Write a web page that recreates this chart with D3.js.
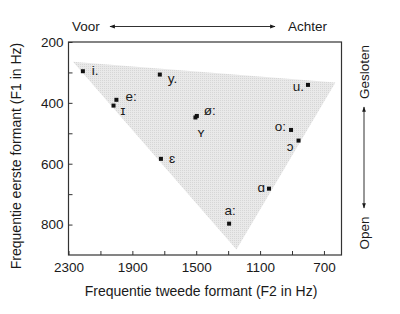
<!DOCTYPE html>
<html><head><meta charset="utf-8">
<script src="https://cdn.jsdelivr.net/npm/d3@7"></script>
<style>
html,body{margin:0;padding:0;background:#fff;}
svg{display:block;font-family:"Liberation Sans",Arial,Helvetica,sans-serif;}
</style></head>
<body>
<script>
// Data
const vowels = ["i.", "y.", "e:", "ɪ", "ø:", "ʏ", "ɛ", "u.", "o:", "ɔ", "ɑ", "a:"];
const f2 = [2210, 1728, 2000, 2018, 1496, 1505, 1721, 800, 906, 859, 1044, 1294];
const f1 = [296, 307, 390, 409, 443, 448, 584, 341, 489, 524, 682, 797];
const triangleF2 = [2272, 628, 1248];
const triangleF1 = [265, 333, 882];
const xTicks = [2300, 2100, 1900, 1700, 1500, 1300, 1100, 900, 700];
const xTickLabels = [2300, 1900, 1500, 1100, 700];
const yTicks = [200, 300, 400, 500, 600, 700, 800];
const yTickLabels = [200, 400, 600, 800];

const W = 400, H = 314;
const svg = d3.select("body").append("svg").attr("width", W).attr("height", H);
const x = d3.scaleLinear().domain([2300, 590]).range([68.5, 341.5]);
const y = d3.scaleLinear().domain([200, 900]).range([42, 255]);
const ink = "#1a1a1a";

// shaded vowel triangle
const defs = svg.append("defs");
const pat = defs.append("pattern").attr("id", "dots")
  .attr("width", 2).attr("height", 2).attr("patternUnits", "userSpaceOnUse");
pat.append("rect").attr("width", 2).attr("height", 2).attr("fill", "#e9e9e9");
pat.append("rect").attr("width", 1).attr("height", 1).attr("fill", "#d6d6d6");
svg.append("path")
  .attr("d", d3.line()(triangleF2.map((v, i) => [x(v), y(triangleF1[i])])) + "Z")
  .attr("fill", "url(#dots)");

// axes
const xAxis = d3.axisBottom(x).tickValues(xTicks).tickSize(-4).tickPadding(7)
  .tickFormat(d => xTickLabels.includes(d) ? d : "");
const gx = svg.append("g").attr("transform", `translate(0,${y.range()[1]})`).call(xAxis);
const yAxis = d3.axisLeft(y).tickValues(yTicks).tickSize(-4).tickPadding(5)
  .tickFormat(d => yTickLabels.includes(d) ? d : "");
const gy = svg.append("g").attr("transform", `translate(${x.range()[0]},0)`).call(yAxis);
[gx, gy].forEach(g => {
  g.select(".domain").remove();
  g.selectAll("line").attr("stroke", "#333");
  g.selectAll("text").attr("font-size", 13.5).attr("fill", ink)
    .attr("font-family", "'Liberation Sans',Arial,sans-serif");
});

// frame
svg.append("rect").attr("x", x.range()[0]).attr("y", y.range()[0])
  .attr("width", x.range()[1] - x.range()[0]).attr("height", y.range()[1] - y.range()[0])
  .attr("fill", "none").attr("stroke", "#333").attr("stroke-width", 1.2);

// markers
const pts = vowels.map((v, i) => ({label: v, f2: f2[i], f1: f1[i]}));
svg.append("g").selectAll("rect").data(pts).join("rect")
  .attr("x", d => x(d.f2) - 2).attr("y", d => y(d.f1) - 2)
  .attr("width", 4).attr("height", 4).attr("fill", "#111");

// label placement (dx, dy, anchor)
const place = {
  "i.": [9, 4, "start"], "y.": [8, 8, "start"], "e:": [9, 1, "start"], "ɪ": [7, 9, "start"],
  "ø:": [7, -1, "start"], "ʏ": [2, 20, "start"], "ɛ": [8, 4, "start"], "u.": [-4, 6, "end"],
  "o:": [-5, 1, "end"], "ɔ": [-5, 10, "end"], "ɑ": [-4, 3, "end"], "a:": [1, -9, "middle"]
};
svg.append("g").selectAll("text").data(pts).join("text")
  .attr("x", d => x(d.f2) + place[d.label][0])
  .attr("y", d => y(d.f1) + place[d.label][1])
  .attr("text-anchor", d => place[d.label][2])
  .attr("font-size", 13.5).attr("fill", ink)
  .attr("font-family", "'Liberation Sans','DejaVu Sans',sans-serif")
  .text(d => d.label);

// titles
svg.append("text").attr("x", 201).attr("y", 296)
  .attr("text-anchor", "middle").attr("font-size", 14).attr("fill", ink)
  .text("Frequentie tweede formant (F2 in Hz)");
svg.append("text").attr("transform", "translate(21,156) rotate(-90)")
  .attr("text-anchor", "middle").attr("font-size", 14).attr("fill", ink)
  .text("Frequentie eerste formant (F1 in Hz)");

// top annotation: Voor <-> Achter
defs.append("marker").attr("id", "ah").attr("viewBox", "0 0 10 10").attr("refX", 9).attr("refY", 5)
  .attr("markerWidth", 6).attr("markerHeight", 6).attr("orient", "auto-start-reverse")
  .append("path").attr("d", "M0,1.5L10,5L0,8.5Z").attr("fill", ink);
svg.append("text").attr("x", 72).attr("y", 31).attr("font-size", 13.5).attr("fill", ink).text("Voor");
svg.append("line").attr("x1", 110).attr("x2", 275).attr("y1", 26.5).attr("y2", 26.5)
  .attr("stroke", ink).attr("stroke-width", 0.9)
  .attr("marker-start", "url(#ah)").attr("marker-end", "url(#ah)");
svg.append("text").attr("x", 288).attr("y", 31).attr("font-size", 13.5).attr("fill", ink).text("Achter");

// right annotation: Gesloten <-> Open
svg.append("text").attr("transform", "translate(369,72) rotate(-90)")
  .attr("text-anchor", "middle").attr("font-size", 13.5).attr("fill", ink).text("Gesloten");
svg.append("line").attr("x1", 364).attr("x2", 364).attr("y1", 107).attr("y2", 208)
  .attr("stroke", ink).attr("stroke-width", 0.9)
  .attr("marker-start", "url(#ah)").attr("marker-end", "url(#ah)");
svg.append("text").attr("transform", "translate(369,233) rotate(-90)")
  .attr("text-anchor", "middle").attr("font-size", 13.5).attr("fill", ink).text("Open");
</script>
</body></html>
